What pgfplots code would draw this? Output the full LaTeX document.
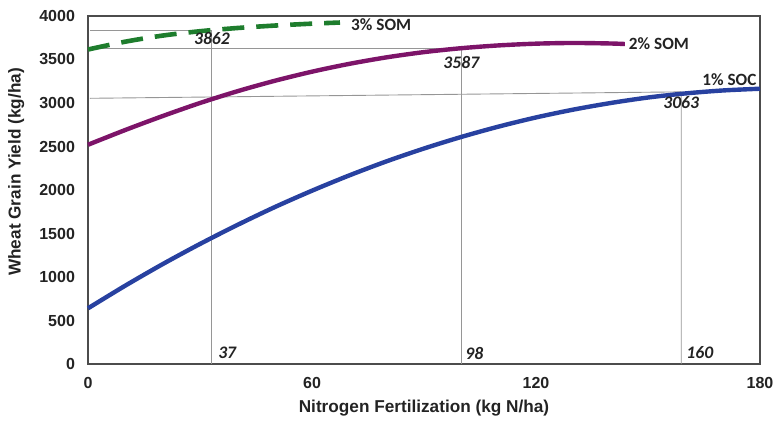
\documentclass[border=0pt]{standalone}
\usepackage{pgfplots}
\pgfplotsset{compat=1.18}
\usepackage{fontspec}
\setmainfont{Liberation Sans}
\newfontfamily\calfont{Carlito}
\definecolor{cgreen}{RGB}{30,125,45}
\definecolor{cpurple}{RGB}{125,20,105}
\definecolor{cblue}{RGB}{40,65,160}
\definecolor{cgrid}{RGB}{150,150,150}
\definecolor{ctext}{RGB}{35,35,35}
\tikzset{
  gridline/.style={draw=cgrid, line width=0.45pt},
  vallab/.style={font=\calfont\bfseries\itshape\fontsize{8.8}{10}\selectfont, text=ctext, inner sep=0pt},
  serlab/.style={font=\calfont\bfseries\fontsize{8.6}{10}\selectfont, text=ctext, inner sep=0pt},
}
\begin{document}
\begin{tikzpicture}
\useasboundingbox (-44pt,-30pt) rectangle (343.5pt,182pt);
\begin{axis}[
  at={(0,0)}, anchor=south west,
  scale only axis, width=336pt, height=174pt,
  xmin=0, xmax=180, ymin=0, ymax=4000,
  xtick={0,60,120,180}, ytick={0,500,...,4000},
  major tick length=0pt,
  axis line style={draw=black!70, line width=0.75pt},
  tick label style={font=\fontsize{8}{9}\selectfont\bfseries, text=ctext},
  /pgf/number format/assume math mode=true,
  /pgf/number format/1000 sep={},
  yticklabel style={xshift=-3pt},
  xticklabel style={yshift=-3pt},
  xlabel={Nitrogen Fertilization (kg N/ha)},
  ylabel={Wheat Grain Yield (kg/ha)},
  label style={font=\fontsize{8.6}{10}\selectfont\bfseries, text=ctext},
  xlabel style={at={(axis description cs:0.5,-0.126)}, anchor=center},
  ylabel style={at={(axis description cs:-0.107,0.552)}, anchor=center},
  clip=false,
]
% guide lines
\addplot[gridline, forget plot] coordinates {(0.5,3839) (33.2,3839) (33.2,0)};
\addplot[gridline, forget plot] coordinates {(0.5,3625) (99.9,3625) (99.9,0)};
\addplot[gridline, forget plot] coordinates {(0.5,3054) (158.9,3128) (158.9,0)};

% 1% SOC
\addplot[cblue, line width=2.2pt, smooth] coordinates {
(0,640) (10,901) (20,1148) (30,1380) (40,1598) (50,1803) (60,1992) (70,2168)
(80,2330) (90,2477) (100,2610) (110,2729) (120,2834) (130,2924) (140,3000)
(150,3063) (160,3110) (170,3144) (180,3164)};
% 2% SOM
\addplot[cpurple, line width=2.2pt, smooth] coordinates {
(0,2520) (10,2690) (20,2850) (30,3000) (40,3135) (50,3255) (60,3360) (70,3450)
(80,3525) (90,3585) (100,3630) (110,3662) (120,3682) (130,3690) (140,3684) (143.8,3678)};
% 3% SOM
\addplot[cgreen, line width=2.3pt, smooth, dash pattern=on 11pt off 6pt] coordinates {
(0,3615) (10,3705) (20,3775) (30,3825) (40,3862) (50,3890) (60,3912) (67.5,3925)};

\node[serlab, anchor=west] at (axis cs:70.4,3897) {3\% SOM};
\node[serlab, anchor=west] at (axis cs:144.8,3678) {2\% SOM};
\node[serlab, anchor=center] at (axis cs:171.8,3264) {1\% SOC};

\node[vallab] at (axis cs:33.2,3736) {3862};
\node[vallab] at (axis cs:100,3471) {3587};
\node[vallab] at (axis cs:158.9,3000) {3063};

\node[vallab, anchor=west] at (axis cs:34.8,126) {37};
\node[vallab, anchor=west] at (axis cs:101,126) {98};
\node[vallab, anchor=west] at (axis cs:160.2,126) {160};
\end{axis}
\end{tikzpicture}
\end{document}
